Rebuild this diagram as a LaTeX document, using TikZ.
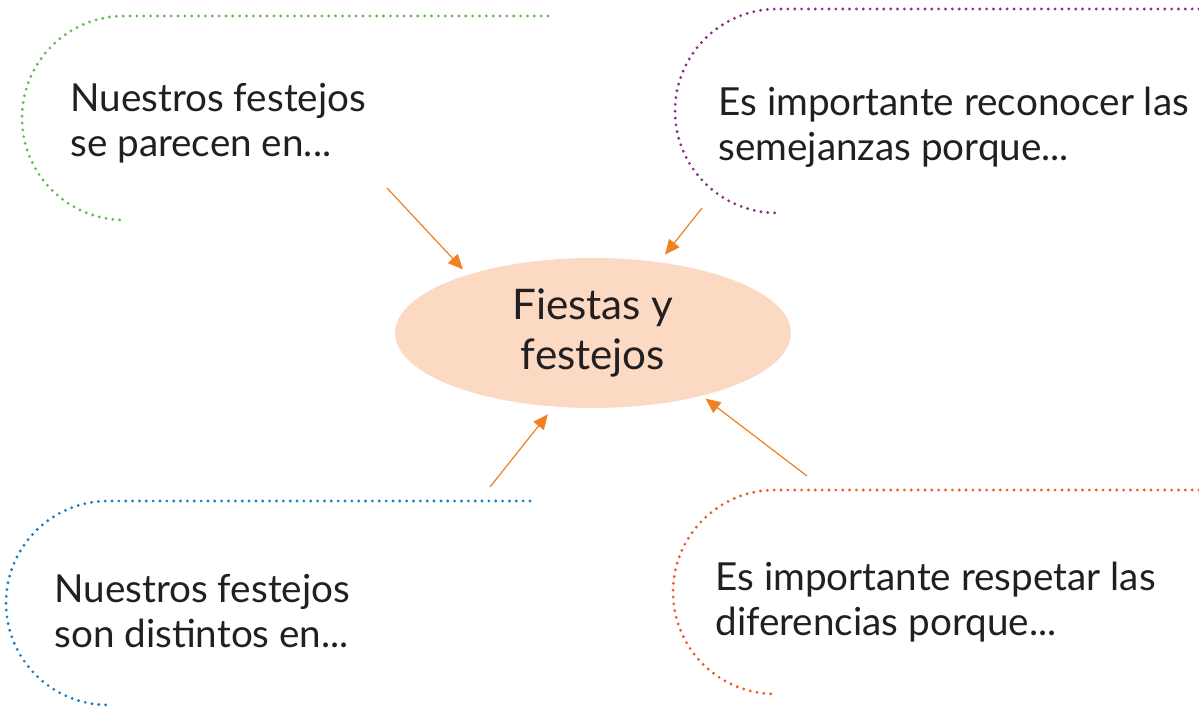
\documentclass[tikz,border=0pt]{standalone}
\usepackage{fontspec}
\setmainfont{Lato}
\usetikzlibrary{shapes.geometric,arrows.meta}
\definecolor{verde}{RGB}{98,187,83}
\definecolor{morado}{RGB}{134,48,134}
\definecolor{azul}{RGB}{20,130,190}
\definecolor{rojizo}{RGB}{240,90,40}
\definecolor{naranja}{RGB}{240,130,35}
\definecolor{durazno}{RGB}{252,217,195}
\definecolor{tinta}{RGB}{35,31,32}
\tikzset{
  >={Triangle[length=8.5pt,width=7.5pt]},
}
\tikzstyle{puntos}=[line width=1.8pt,line cap=round,dash pattern=on 0pt off 3.9pt]
\tikzstyle{flecha}=[->,line width=0.7pt,naranja]
\tikzstyle{tema}=[ellipse,fill=durazno,minimum width=7.92cm,minimum height=3cm,inner sep=0pt,align=center,text=tinta,font=\fontsize{24}{28}\selectfont]
\tikzstyle{texto}=[anchor=west,align=left,inner sep=0pt,text=tinta,font=\fontsize{22}{25.6}\selectfont]

\begin{document}
\begin{tikzpicture}[x=0.02cm,y=0.02cm]
    \useasboundingbox (0,0) rectangle (1199,713);
    \draw[puntos,verde] (548,697)--(124,697) arc[start angle=90,end angle=270,radius=2.04cm];
    \draw[puntos,morado] (1199,704)--(777,704) arc[start angle=90,end angle=270,radius=2.04cm];
    \draw[puntos,azul] (530,212)--(108,212) arc[start angle=90,end angle=270,radius=2.04cm];
    \draw[puntos,rojizo] (1199,223)--(775,223) arc[start angle=90,end angle=270,radius=2.04cm];

    \node[tema] (fiestas) at (593,380) {Fiestas y\\festejos};
    \node[texto] (parecen) at (70,590) {Nuestros festejos\\se parecen en...};
    \node[texto] (semejanzas) at (718,586) {Es importante reconocer las\\semejanzas porque...};
    \node[texto] (distintos) at (54,102) {Nuestros festejos\\son distintos en...};
    \node[texto] (diferencias) at (715,111) {Es importante respetar las\\diferencias porque...};

    \coordinate (s1) at (387,525);
    \coordinate (s2) at (702,505);
    \coordinate (s3) at (490,226);
    \coordinate (s4) at (807,237);
    \draw[flecha,shorten >=4pt] (s1)--(fiestas.155);
    \draw[flecha,shorten >=5.3pt] (s2)--(fiestas.47);
    \draw[flecha,shorten >=5.4pt] (s3)--(fiestas.242);
    \draw[flecha,shorten >=2.5pt] (s4)--(fiestas.330.6);
\end{tikzpicture}
\end{document}
